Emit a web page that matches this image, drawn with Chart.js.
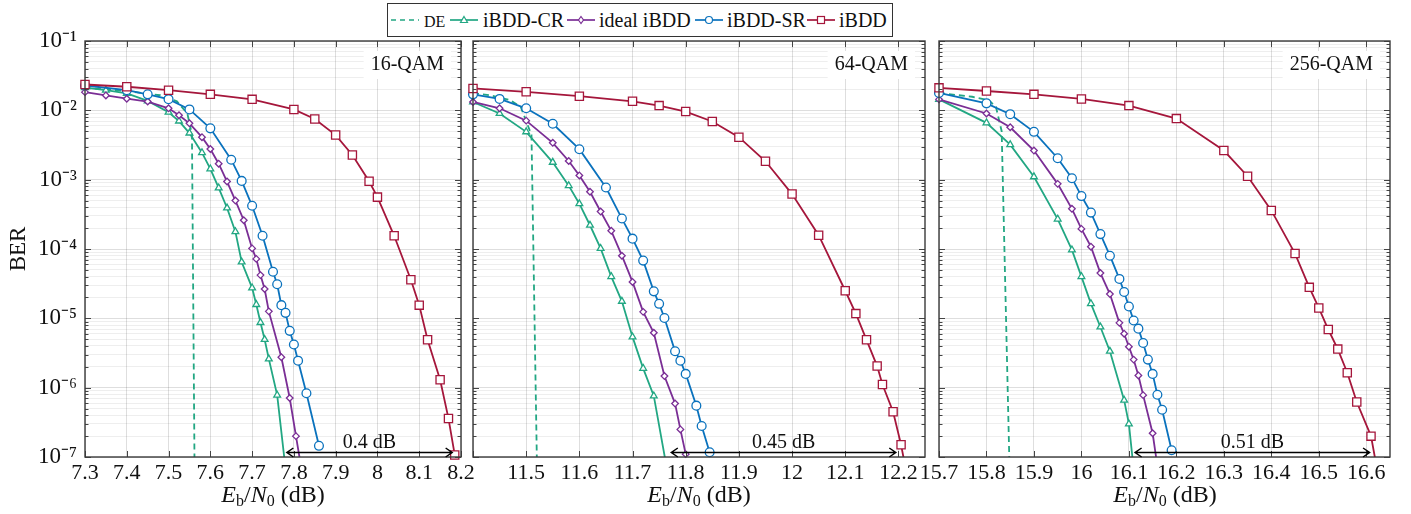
<!DOCTYPE html>
<html>
<head>
<meta charset="utf-8">
<script src="https://cdn.jsdelivr.net/npm/chart.js@4.4.1/dist/chart.umd.min.js"></script>
<style>
  body { margin: 0; background: #fff; }
  #wrap { position: relative; width: 1411px; height: 514px; font-family: "Liberation Serif", serif; color: #111; }
  #wrap canvas { position: absolute; left: 0; top: 0; }
  .legend { position: absolute; left: 387px; top: 3px; width: 506px; height: 34px; border: 1px solid #333; box-sizing: border-box; background: #fff; }
  .legend span { position: absolute; top: 4px; font-family: "Liberation Serif", serif; font-size: 20px; line-height: 24px; white-space: nowrap; }
  .legend svg { position: absolute; top: 8px; }
  .xtitle { position: absolute; top: 480px; width: 240px; text-align: center; font-family: "Liberation Serif", serif; font-size: 24px; line-height: 28px; }
  .xtitle sub { font-size: 16px; vertical-align: -4px; line-height: 0; }
</style>
</head>
<body>
<div id="wrap">
  <canvas id="c16" width="1411" height="514"></canvas>
  <canvas id="c64" width="1411" height="514"></canvas>
  <canvas id="c256" width="1411" height="514"></canvas>
  <div class="legend" id="legend"></div>
  <div class="xtitle" style="left:153px"><i>E</i><sub>b</sub>/<i>N</i><sub>0</sub> (dB)</div>
  <div class="xtitle" style="left:579px"><i>E</i><sub>b</sub>/<i>N</i><sub>0</sub> (dB)</div>
  <div class="xtitle" style="left:1045px"><i>E</i><sub>b</sub>/<i>N</i><sub>0</sub> (dB)</div>
</div>
<script>
// ---- data ----
const seriesNames = ['DE', 'iBDD-CR', 'ideal iBDD', 'iBDD-SR', 'iBDD'];
const panelTitles = ['16-QAM', '64-QAM', '256-QAM'];
const gapLabels = ['0.4 dB', '0.45 dB', '0.51 dB'];
const gapFrom = [7.782, 11.772, 16.112];
const gapTo = [8.18, 12.196, 16.608];
const gapBer = 1.2e-7;

const yDecades = [-7, -6, -5, -4, -3, -2, -1];
const yTickLabels = ['10⁻⁷', '10⁻⁶', '10⁻⁵', '10⁻⁴', '10⁻³', '10⁻²', '10⁻¹'];
const yMinorSteps = [2, 3, 4, 5, 6, 7, 8, 9];

const xTicks16 = [7.3, 7.4, 7.5, 7.6, 7.7, 7.8, 7.9, 8.0, 8.1, 8.2];
const xLabels16 = ['7.3', '7.4', '7.5', '7.6', '7.7', '7.8', '7.9', '8', '8.1', '8.2'];
const xTicks64 = [11.4, 11.5, 11.6, 11.7, 11.8, 11.9, 12.0, 12.1, 12.2];
const xLabels64 = ['', '11.5', '11.6', '11.7', '11.8', '11.9', '12', '12.1', '12.2'];
const xTicks256 = [15.7, 15.8, 15.9, 16.0, 16.1, 16.2, 16.3, 16.4, 16.5, 16.6];
const xLabels256 = ['15.7', '15.8', '15.9', '16', '16.1', '16.2', '16.3', '16.4', '16.5', '16.6'];

// 16-QAM
const de16X = [7.3, 7.4, 7.48, 7.52, 7.545, 7.556, 7.562];
const de16Y = [0.021, 0.019, 0.0165, 0.0135, 0.009, 0.0045, 1e-7];
const cr16X = [7.3, 7.35, 7.4, 7.45, 7.5, 7.525, 7.55, 7.58, 7.6, 7.62, 7.64, 7.66, 7.675, 7.7, 7.71, 7.72, 7.73, 7.74, 7.76, 7.79];
const cr16Y = [0.0213, 0.0195, 0.0175, 0.0137, 0.0094, 0.007, 0.0047, 0.00245, 0.00143, 0.00076, 0.00039, 0.000178, 6.5e-5, 2.75e-5, 1.58e-5, 8.7e-6, 4.95e-6, 2.6e-6, 7.8e-7, 2e-8];
const ideal16X = [7.3, 7.35, 7.4, 7.45, 7.5, 7.525, 7.55, 7.58, 7.6, 7.62, 7.64, 7.66, 7.68, 7.7, 7.71, 7.72, 7.73, 7.74, 7.77, 7.79, 7.805, 7.83];
const ideal16Y = [0.0183, 0.0164, 0.0147, 0.0134, 0.0107, 0.0085, 0.0065, 0.0041, 0.00277, 0.0017, 0.00094, 0.0005, 0.00026, 0.000102, 7.2e-5, 4.2e-5, 2.65e-5, 1.26e-5, 2.75e-6, 7.1e-7, 2.0e-7, 2.5e-8];
const sr16X = [7.3, 7.4, 7.45, 7.5, 7.55, 7.6, 7.65, 7.675, 7.7, 7.725, 7.75, 7.76, 7.77, 7.78, 7.79, 7.8, 7.81, 7.83, 7.86];
const sr16Y = [0.0228, 0.0195, 0.017, 0.0145, 0.0103, 0.0055, 0.00194, 0.00096, 0.00042, 0.000155, 4.7e-5, 3.1e-5, 1.55e-5, 1.2e-5, 6.6e-6, 4.2e-6, 2.45e-6, 8.3e-7, 1.45e-7];
const ibdd16X = [7.3, 7.4, 7.5, 7.6, 7.7, 7.8, 7.85, 7.9, 7.94, 7.98, 8.0, 8.04, 8.08, 8.1, 8.12, 8.15, 8.17, 8.185];
const ibdd16Y = [0.0236, 0.0219, 0.0195, 0.017, 0.0144, 0.0103, 0.0075, 0.0044, 0.00227, 0.00095, 0.00056, 0.000155, 3.6e-5, 1.55e-5, 4.9e-6, 1.3e-6, 3.6e-7, 1.07e-7];

// 64-QAM
const de64X = [11.4, 11.43, 11.47, 11.49, 11.51, 11.52];
const de64Y = [0.0177, 0.0166, 0.014, 0.0111, 0.0044, 1e-7];
const cr64X = [11.4, 11.45, 11.5, 11.55, 11.58, 11.6, 11.62, 11.64, 11.66, 11.68, 11.7, 11.72, 11.74, 11.78];
const cr64Y = [0.0132, 0.009, 0.0049, 0.00178, 0.00082, 0.00045, 0.00022, 0.000102, 4.0e-5, 1.76e-5, 5.4e-6, 1.9e-6, 7.6e-7, 1.5e-8];
const ideal64X = [11.4, 11.45, 11.5, 11.55, 11.58, 11.6, 11.62, 11.64, 11.66, 11.68, 11.7, 11.72, 11.74, 11.76, 11.78, 11.79, 11.8];
const ideal64Y = [0.0132, 0.0107, 0.0071, 0.0034, 0.00186, 0.00115, 0.00067, 0.000347, 0.000183, 8e-5, 3.35e-5, 1.24e-5, 6.2e-6, 1.47e-6, 5.9e-7, 2.5e-7, 1.1e-7];
const sr64X = [11.4, 11.45, 11.5, 11.55, 11.6, 11.65, 11.68, 11.7, 11.72, 11.74, 11.75, 11.76, 11.78, 11.79, 11.8, 11.82, 11.83, 11.845];
const sr64Y = [0.017, 0.0146, 0.0107, 0.0064, 0.00275, 0.00077, 0.000275, 0.000141, 6.8e-5, 2.45e-5, 1.62e-5, 1.01e-5, 3.35e-6, 2.45e-6, 1.58e-6, 5.5e-7, 2.8e-7, 1.17e-7];
const ibdd64X = [11.4, 11.5, 11.6, 11.7, 11.75, 11.8, 11.85, 11.9, 11.95, 12.0, 12.05, 12.1, 12.12, 12.14, 12.16, 12.17, 12.19, 12.205, 12.23];
const ibdd64Y = [0.0207, 0.0185, 0.016, 0.0135, 0.0117, 0.0096, 0.0069, 0.0041, 0.00184, 0.00062, 0.000158, 2.5e-5, 1.17e-5, 4.9e-6, 2.05e-6, 1.11e-6, 4.5e-7, 1.5e-7, 1.5e-8];

// 256-QAM
const de256X = [15.7, 15.77, 15.805, 15.82, 15.832, 15.848];
const de256Y = [0.0178, 0.0157, 0.014, 0.0112, 0.005, 1e-7];
const cr256X = [15.7, 15.8, 15.85, 15.9, 15.95, 15.98, 16.0, 16.02, 16.04, 16.06, 16.09, 16.1, 16.12];
const cr256Y = [0.0144, 0.0066, 0.0032, 0.0011, 0.00027, 9.7e-5, 4.0e-5, 1.63e-5, 7.5e-6, 3.35e-6, 6.6e-7, 3.0e-7, 1.5e-8];
const ideal256X = [15.7, 15.8, 15.85, 15.9, 15.95, 15.98, 16.0, 16.02, 16.04, 16.06, 16.08, 16.09, 16.1, 16.11, 16.12, 16.13, 16.15, 16.17];
const ideal256Y = [0.0144, 0.009, 0.0057, 0.00263, 0.00087, 0.00038, 0.000195, 0.000108, 4.5e-5, 2.24e-5, 8.6e-6, 6.0e-6, 3.9e-6, 2.54e-6, 1.5e-6, 7.8e-7, 2.2e-7, 2.5e-8];
const sr256X = [15.7, 15.8, 15.85, 15.9, 15.95, 15.98, 16.0, 16.02, 16.04, 16.06, 16.08, 16.09, 16.1, 16.11, 16.12, 16.13, 16.14, 16.15, 16.16, 16.17, 16.19];
const sr256Y = [0.0178, 0.0126, 0.0088, 0.0049, 0.00204, 0.00105, 0.00058, 0.000335, 0.000164, 8e-5, 3.7e-5, 2.4e-5, 1.48e-5, 9.3e-6, 7.1e-6, 4.4e-6, 2.54e-6, 1.58e-6, 7.9e-7, 4.8e-7, 1.25e-7];
const ibdd256X = [15.7, 15.8, 15.9, 16.0, 16.1, 16.2, 16.3, 16.35, 16.4, 16.45, 16.48, 16.5, 16.52, 16.54, 16.56, 16.58, 16.61, 16.64];
const ibdd256Y = [0.0211, 0.019, 0.017, 0.0146, 0.0117, 0.0076, 0.00263, 0.00112, 0.00036, 8.6e-5, 2.8e-5, 1.41e-5, 6.9e-6, 3.6e-6, 1.64e-6, 6.2e-7, 2.0e-7, 1.5e-8];

// ---- styling ----
const FONT = '"Liberation Serif", "Times New Roman", serif';
const Y_MIN = 1e-7, Y_MAX = 1e-1;
const colors = ['#22a783', '#22a783', '#7a2e95', '#0a72bd', '#a5163b'];
const markers = [false, 'triangle', 'rectRot', 'circle', 'rect'];
const markerSize = [0, 3.9, 3.3, 4.4, 5.8];
const GRID_MAJOR = 'rgba(0,0,0,0.13)';
const GRID_MINOR = 'rgba(0,0,0,0.065)';

Chart.defaults.color = '#111';
Chart.defaults.font.family = FONT;

function isDecade(v) {
  const l = Math.log10(v);
  return Math.abs(l - Math.round(l)) < 1e-6;
}

function yTickValues() {
  const out = [];
  for (const d of yDecades) {
    out.push(Math.pow(10, d));
    if (d === yDecades[yDecades.length - 1]) break;
    for (const m of yMinorSteps) out.push(Number((m * Math.pow(10, d)).toPrecision(3)));
  }
  return out;
}

const decoPlugin = {
  id: 'deco',
  afterDraw(chart, args, o) {
    const { ctx, chartArea: a, scales: { x, y } } = chart;
    ctx.save();
    // inward tick marks
    ctx.strokeStyle = '#444';
    ctx.lineWidth = 1;
    ctx.beginPath();
    for (const t of y.ticks) {
      const py = Math.round(y.getPixelForValue(t.value)) + 0.5;
      const len = isDecade(t.value) ? 6 : 3.5;
      ctx.moveTo(a.left, py); ctx.lineTo(a.left + len, py);
      ctx.moveTo(a.right, py); ctx.lineTo(a.right - len, py);
    }
    for (const t of x.ticks) {
      const px = Math.round(x.getPixelForValue(t.value)) + 0.5;
      ctx.moveTo(px, a.top); ctx.lineTo(px, a.top + 6);
      ctx.moveTo(px, a.bottom); ctx.lineTo(px, a.bottom - 6);
    }
    ctx.stroke();
    // frame
    ctx.lineWidth = 1.4;
    ctx.strokeStyle = '#3a3a3a';
    ctx.strokeRect(a.left, a.top, a.right - a.left, a.bottom - a.top);
    // panel title in white box
    ctx.font = '20px ' + FONT;
    const w = ctx.measureText(o.title).width;
    const tx = a.right - 17;
    ctx.fillStyle = '#fff';
    ctx.fillRect(tx - w - 7, a.top + 10, w + 14, 28);
    ctx.fillStyle = '#111';
    ctx.textAlign = 'right';
    ctx.textBaseline = 'middle';
    ctx.fillText(o.title, tx, a.top + 24);
    // double arrow with gap label
    const x1 = x.getPixelForValue(o.from), x2 = x.getPixelForValue(o.to);
    const ay = Math.round(y.getPixelForValue(o.ber)) + 0.5;
    ctx.strokeStyle = '#000';
    ctx.lineWidth = 1.5;
    ctx.beginPath();
    ctx.moveTo(x1, ay); ctx.lineTo(x2, ay);
    ctx.moveTo(x1 + 7, ay - 4.5); ctx.lineTo(x1 + 0.5, ay); ctx.lineTo(x1 + 7, ay + 4.5);
    ctx.moveTo(x2 - 7, ay - 4.5); ctx.lineTo(x2 - 0.5, ay); ctx.lineTo(x2 - 7, ay + 4.5);
    ctx.stroke();
    ctx.textAlign = 'center';
    ctx.textBaseline = 'alphabetic';
    ctx.fillText(o.label, (x1 + x2) / 2, ay - 5);
    ctx.restore();
  }
};

function makePanel(id, p) {
  const datasets = p.series.map((s, i) => ({
    label: seriesNames[i],
    data: s[0].map((xv, k) => ({ x: xv, y: s[1][k] })),
    borderColor: colors[i],
    backgroundColor: '#fff',
    borderWidth: 1.8,
    borderDash: i === 0 ? [6, 4] : [],
    pointStyle: markers[i],
    pointRadius: markerSize[i],
    pointBorderWidth: 1.3,
    pointBorderColor: colors[i],
    pointBackgroundColor: '#fff',
    tension: 0,
    order: 4 - i,
    clip: { left: 12, right: 12, top: 12, bottom: Math.min(...s[1]) < Y_MIN ? 0 : 12 }
  }));
  return new Chart(document.getElementById(id), {
    type: 'line',
    data: { datasets },
    options: {
      responsive: false,
      animation: false,
      layout: { padding: { left: p.left, right: 1411 - p.right, top: 41, bottom: 0 } },
      plugins: {
        legend: { display: false },
        tooltip: { enabled: false },
        deco: { title: p.title, from: p.from, to: p.to, label: p.label, ber: gapBer }
      },
      scales: {
        x: {
          type: 'linear',
          min: p.xmin, max: p.xmax,
          afterBuildTicks: (s) => { s.ticks = p.xTicks.map((v) => ({ value: v })); },
          afterFit: (s) => { s.height = 57; },
          ticks: {
            autoSkip: false, maxRotation: 0, padding: 3,
            font: { size: 22 },
            callback: (v, i) => p.xLabels[i]
          },
          grid: { color: GRID_MAJOR, drawTicks: false },
          border: { display: false }
        },
        y: {
          type: 'logarithmic',
          min: Y_MIN, max: Y_MAX,
          afterBuildTicks: (s) => { s.ticks = yTickValues().map((v) => ({ value: v })); },
          afterFit: (s) => { s.width = p.showY ? 85 : 0; },
          ticks: {
            display: p.showY, autoSkip: false, padding: 8,
            font: { size: 23 },
            callback: (v) => {
              const k = yDecades.findIndex((d) => Math.abs(Math.log10(v) - d) < 1e-6);
              return k >= 0 ? yTickLabels[k] : '';
            }
          },
          title: { display: p.showY, text: 'BER', font: { size: 23 }, padding: { top: 5, bottom: 0 } },
          grid: { color: (c) => (c.tick && isDecade(c.tick.value) ? GRID_MAJOR : GRID_MINOR), drawTicks: false },
          border: { display: false }
        }
      }
    },
    plugins: [decoPlugin]
  });
}

makePanel('c16', {
  left: 0, right: 461, xmin: 7.3, xmax: 8.2, xTicks: xTicks16, xLabels: xLabels16, showY: true,
  title: panelTitles[0], from: gapFrom[0], to: gapTo[0], label: gapLabels[0],
  series: [[de16X, de16Y], [cr16X, cr16Y], [ideal16X, ideal16Y], [sr16X, sr16Y], [ibdd16X, ibdd16Y]]
});
makePanel('c64', {
  left: 473, right: 925, xmin: 11.4, xmax: 12.25, xTicks: xTicks64, xLabels: xLabels64, showY: false,
  title: panelTitles[1], from: gapFrom[1], to: gapTo[1], label: gapLabels[1],
  series: [[de64X, de64Y], [cr64X, cr64Y], [ideal64X, ideal64Y], [sr64X, sr64Y], [ibdd64X, ibdd64Y]]
});
makePanel('c256', {
  left: 939, right: 1390, xmin: 15.7, xmax: 16.65, xTicks: xTicks256, xLabels: xLabels256, showY: false,
  title: panelTitles[2], from: gapFrom[2], to: gapTo[2], label: gapLabels[2],
  series: [[de256X, de256Y], [cr256X, cr256Y], [ideal256X, ideal256Y], [sr256X, sr256Y], [ibdd256X, ibdd256Y]]
});

// ---- legend (HTML, single row above the panels) ----
function legendSymbol(i) {
  const c = colors[i];
  const line = `<line x1="0" y1="8" x2="28" y2="8" stroke="${c}" stroke-width="1.7"${i === 0 ? ' stroke-dasharray="5,4"' : ''}/>`;
  let mark = '';
  if (markers[i] === 'triangle') mark = `<polygon points="14,4.5 17.5,10.5 10.5,10.5" fill="#fff" stroke="${c}" stroke-width="1.2"/>`;
  if (markers[i] === 'rectRot') mark = `<polygon points="14,4.5 16.5,8 14,11.5 11.5,8" fill="#fff" stroke="${c}" stroke-width="1.2"/>`;
  if (markers[i] === 'circle') mark = `<circle cx="14" cy="8" r="3.5" fill="#fff" stroke="${c}" stroke-width="1.2"/>`;
  if (markers[i] === 'rect') mark = `<rect x="10.5" y="4.5" width="7" height="7" fill="#fff" stroke="${c}" stroke-width="1.2"/>`;
  return `<svg width="29" height="16" viewBox="0 0 29 16">${line}${mark}</svg>`;
}
const legendSymX = [3, 62, 179, 307, 419];
const legendTextX = [36, 95, 211, 339, 451];
const legend = document.getElementById('legend');
seriesNames.forEach((name, i) => {
  const sym = document.createElement('div');
  sym.innerHTML = legendSymbol(i);
  sym.firstChild.style.left = legendSymX[i] + 'px';
  legend.appendChild(sym.firstChild);
  const span = document.createElement('span');
  span.textContent = name;
  span.style.left = legendTextX[i] + 'px';
  if (i === 0) { span.style.fontSize = '16px'; span.style.top = '6px'; }
  legend.appendChild(span);
});
</script>
</body>
</html>
